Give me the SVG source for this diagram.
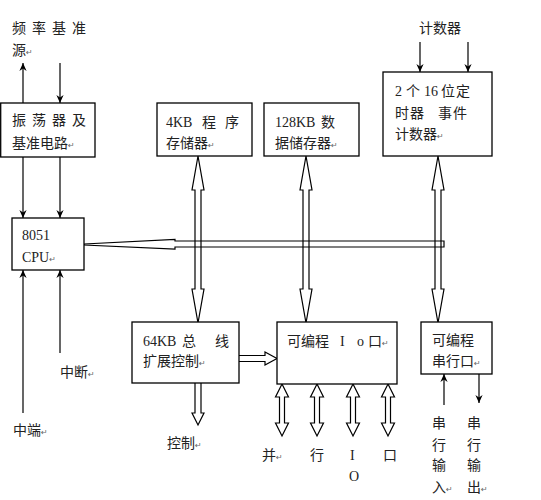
<svg xmlns="http://www.w3.org/2000/svg" width="541" height="500" viewBox="0 0 541 500">
<style>
.box{fill:#fff;stroke:#000;stroke-width:1.3}
.ln{fill:none;stroke:#000;stroke-width:1.2}
.ho{fill:none;stroke:#000;stroke-width:1.2;stroke-linejoin:miter}
.t{font-family:"Liberation Serif","Noto Sans CJK SC",serif;font-size:14px;fill:#222}
.r{font-family:"DejaVu Sans",sans-serif;font-size:8px;fill:#666}
</style>
<defs>
<marker id="ah" viewBox="0 0 10 10" refX="10" refY="5" markerWidth="9" markerHeight="8" orient="auto-start-reverse" markerUnits="userSpaceOnUse">
<path d="M0,0.5 L10,5 L0,9.5 L3,5 z" fill="#000"/>
</marker>
</defs>
<rect width="541" height="500" fill="#fff"/>

<g id="connectors">
<line class="ln" x1="23" y1="103" x2="23" y2="63" marker-end="url(#ah)"/>
<line class="ln" x1="60" y1="63" x2="60" y2="103" marker-end="url(#ah)"/>
<line class="ln" x1="23" y1="157" x2="23" y2="218" marker-end="url(#ah)"/>
<line class="ln" x1="60" y1="157" x2="60" y2="218" marker-end="url(#ah)"/>
<line class="ln" x1="23" y1="413" x2="23" y2="270" marker-end="url(#ah)"/>
<line class="ln" x1="60" y1="353" x2="60" y2="270" marker-end="url(#ah)"/>
<line class="ln" x1="420" y1="42" x2="420" y2="72" marker-end="url(#ah)"/>
<line class="ln" x1="468" y1="42" x2="468" y2="72" marker-end="url(#ah)"/>
<line class="ln" x1="444" y1="405" x2="444" y2="374" marker-end="url(#ah)"/>
<line class="ln" x1="479" y1="374" x2="479" y2="403" marker-end="url(#ah)"/>
<path class="ho" d="M84,244 L175,239.5 L175,241 L444,241 L444,247 L175,247 L175,249 L84,245 Z"/>
<path class="ho" d="M198,156 L204,190 L201,190 L201,289 L204,289 L198,323 L192,289 L195,289 L195,190 L192,190 Z"/>
<path class="ho" d="M306,156 L312,190 L309,190 L309,289 L312,289 L306,323 L300,289 L303,289 L303,190 L300,190 Z"/>
<path class="ho" d="M438,156 L444,190 L441,190 L441,289 L444,289 L438,323 L432,289 L435,289 L435,190 L432,190 Z"/>
<path class="ho" d="M195,383 L195,413 L192,413 L198,425 L204,413 L201,413 L201,383"/>
<path class="ho" d="M239,355.5 L265,355.5 L265,352 L277,358.5 L265,365 L265,361.5 L239,361.5"/>
<path class="ho" d="M282,384 L288.5,397 L284.5,397 L284.5,423 L288.5,423 L282,436 L275.5,423 L279.5,423 L279.5,397 L275.5,397 Z"/>
<path class="ho" d="M317,384 L323.5,397 L319.5,397 L319.5,423 L323.5,423 L317,436 L310.5,423 L314.5,423 L314.5,397 L310.5,397 Z"/>
<path class="ho" d="M353,384 L359.5,397 L355.5,397 L355.5,423 L359.5,423 L353,436 L346.5,423 L350.5,423 L350.5,397 L346.5,397 Z"/>
<path class="ho" d="M388,384 L394.5,397 L390.5,397 L390.5,423 L394.5,423 L388,436 L381.5,423 L385.5,423 L385.5,397 L381.5,397 Z"/>
</g>

<g id="osc">
<rect class="box" x="0.7" y="103" width="94.3" height="54"/>
<text class="t" x="12 32 52 72" y="125">振荡器及</text>
<text class="t" x="12" y="148">基准电路<tspan class="r">↵</tspan></text>
</g>
<g id="cpu">
<rect class="box" x="12" y="218" width="72" height="52"/>
<text class="t" x="22" y="240">8051</text>
<text class="t" x="22" y="262">CPU<tspan class="r">↵</tspan></text>
</g>
<g id="rom">
<rect class="box" x="157" y="103" width="95" height="53"/>
<text class="t" x="166" y="127">4KB</text>
<text class="t" x="202 225" y="127">程序</text>
<text class="t" x="166" y="148">存储器<tspan class="r">↵</tspan></text>
</g>
<g id="ram">
<rect class="box" x="264" y="103" width="95" height="53"/>
<text class="t" x="275" y="127">128KB</text>
<text class="t" x="321" y="127">数</text>
<text class="t" x="275" y="148">据储存器<tspan class="r">↵</tspan></text>
</g>
<g id="timer">
<rect class="box" x="383" y="72" width="109" height="84"/>
<text class="t" x="395" y="96">2</text>
<text class="t" x="406" y="96">个</text>
<text class="t" x="424" y="96">16</text>
<text class="t" x="441 456" y="96">位定</text>
<text class="t" x="395 410 438 453" y="118">时器事件</text>
<text class="t" x="395" y="139">计数器<tspan class="r">↵</tspan></text>
</g>
<g id="busctl">
<rect class="box" x="132" y="322" width="107" height="61"/>
<text class="t" x="143" y="346">64KB</text>
<text class="t" x="182 215" y="346">总线</text>
<text class="t" x="143" y="366">扩展控制<tspan class="r">↵</tspan></text>
</g>
<g id="pio">
<rect class="box" x="277" y="322" width="120" height="62"/>
<text class="t" x="287" y="346">可编程</text>
<text class="t" x="340" y="346">I</text>
<text class="t" x="357" y="346">o</text>
<text class="t" x="368" y="346">口<tspan class="r">↵</tspan></text>
</g>
<g id="serial">
<rect class="box" x="421" y="322" width="71" height="52"/>
<text class="t" x="432" y="345">可编程</text>
<text class="t" x="432" y="366">串行口<tspan class="r">↵</tspan></text>
</g>

<g id="labels">
<text class="t" x="12 32 52 72" y="33">频率基准</text>
<text class="t" x="12" y="55">源<tspan class="r">↵</tspan></text>
<text class="t" x="419" y="33">计数器</text>
<text class="t" x="60" y="377">中断<tspan class="r">↵</tspan></text>
<text class="t" x="13" y="435">中端<tspan class="r">↵</tspan></text>
<text class="t" x="167" y="448">控制<tspan class="r">↵</tspan></text>
<text class="t" x="262" y="460">并<tspan class="r">↵</tspan></text>
<text class="t" x="310" y="460">行</text>
<text class="t" x="350" y="460">I</text>
<text class="t" x="383" y="460">口</text>
<text class="t" x="349" y="481">O</text>
<text class="t" x="432" y="428">串</text>
<text class="t" x="432" y="450">行</text>
<text class="t" x="432" y="470">输</text>
<text class="t" x="432" y="492">入<tspan class="r">↵</tspan></text>
<text class="t" x="467" y="428">串</text>
<text class="t" x="467" y="450">行</text>
<text class="t" x="467" y="470">输</text>
<text class="t" x="467" y="492">出<tspan class="r">↵</tspan></text>
</g>
</svg>
